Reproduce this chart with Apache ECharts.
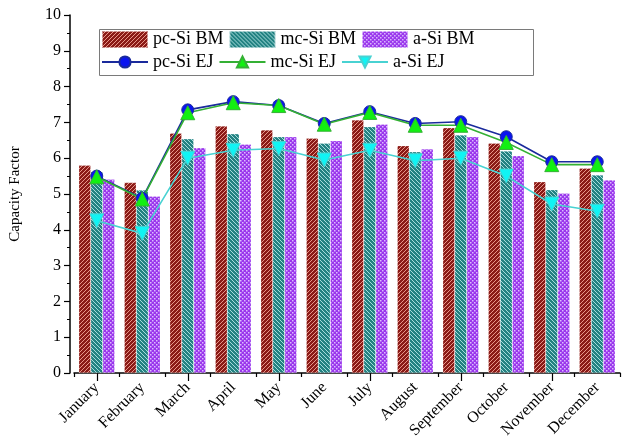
<!DOCTYPE html>
<html>
<head>
<meta charset="utf-8">
<script src="https://cdn.jsdelivr.net/npm/echarts@6/dist/echarts.min.js"></script>
<style>
  html, body { margin: 0; padding: 0; background: #ffffff; }
  #chart { width: 633px; height: 444px; }
</style>
</head>
<body>
<div id="chart"></div>
<script>
// Monthly capacity factor of three PV technologies, two estimation methods
const months = ['January', 'February', 'March', 'April', 'May', 'June',
                'July', 'August', 'September', 'October', 'November', 'December'];

// BM results (bars)
const pcSiBM = [5.80, 5.32, 6.70, 6.90, 6.79, 6.56, 7.07, 6.35, 6.85, 6.42, 5.34, 5.72];
const mcSiBM = [5.62, 5.11, 6.54, 6.68, 6.60, 6.42, 6.88, 6.18, 6.65, 6.20, 5.12, 5.53];
const aSiBM  = [5.41, 4.94, 6.29, 6.39, 6.60, 6.49, 6.95, 6.26, 6.60, 6.07, 5.02, 5.39];

// EJ results (lines)
const pcSiEJ = [5.50, 4.88, 7.35, 7.58, 7.47, 6.97, 7.30, 6.97, 7.02, 6.60, 5.90, 5.90];
const mcSiEJ = [5.48, 4.86, 7.27, 7.55, 7.47, 6.95, 7.28, 6.92, 6.92, 6.44, 5.82, 5.82];
const aSiEJ  = [4.25, 3.90, 6.00, 6.22, 6.27, 5.95, 6.22, 5.93, 6.00, 5.50, 4.72, 4.52];

const yTicks = { min: 0, max: 10, step: 1 };

const SERIF = 'Liberation Serif, Times New Roman, serif';

// Hatch fill tiles for the bars
function stripeTile(bg, fg, rising) {
  const s = 4;
  const c = document.createElement('canvas');
  c.width = s; c.height = s;
  const g = c.getContext('2d');
  g.fillStyle = bg; g.fillRect(0, 0, s, s);
  g.strokeStyle = fg; g.lineWidth = 1;
  g.beginPath();
  if (rising) {
    g.moveTo(-1, s + 1); g.lineTo(s + 1, -1);
    g.moveTo(-1, 1); g.lineTo(1, -1);
    g.moveTo(s - 1, s + 1); g.lineTo(s + 1, s - 1);
  } else {
    g.moveTo(-1, -1); g.lineTo(s + 1, s + 1);
    g.moveTo(s - 1, -1); g.lineTo(s + 1, 1);
    g.moveTo(-1, s - 1); g.lineTo(1, s + 1);
  }
  g.stroke();
  return c;
}
function dotTile(bg, fg) {
  const s = 4;
  const c = document.createElement('canvas');
  c.width = s; c.height = s;
  const g = c.getContext('2d');
  g.fillStyle = bg; g.fillRect(0, 0, s, s);
  g.fillStyle = fg;
  g.fillRect(0, 0, 1.5, 1.5);
  g.fillRect(2, 2, 1.5, 1.5);
  return c;
}

const redFill    = { image: stripeTile('#8a1a16', '#e8968a', true), repeat: 'repeat' };
const tealFill   = { image: stripeTile('#238282', '#a6dcdc', false), repeat: 'repeat' };
const purpleFill = { image: dotTile('#9a36ec', '#dcbcff'), repeat: 'repeat' };

function barSeries(name, data, fill) {
  return {
    name: name, type: 'bar', data: data,
    xAxisIndex: 0, yAxisIndex: 0,
    barWidth: 12, barGap: '0%',
    itemStyle: { color: fill, borderColor: 'rgba(255,255,255,0.5)', borderWidth: 0.5 },
    z: 2
  };
}
function lineSeries(name, data, lineColor, markColor, symbol, size, rotate) {
  return {
    name: name, type: 'line', data: data,
    xAxisIndex: 0, yAxisIndex: 0,
    symbol: symbol, symbolSize: size, symbolRotate: rotate,
    lineStyle: { color: lineColor, width: 1.6 },
    itemStyle: { color: markColor, borderColor: lineColor, borderWidth: 1 },
    z: 4
  };
}

const chart = echarts.init(document.getElementById('chart'), null, { renderer: 'canvas' });

const legendText = { fontFamily: SERIF, fontSize: 18, color: '#000', width: 88 };

chart.setOption({
  backgroundColor: '#ffffff',
  animation: false,
  grid: { left: 74, right: 13, top: 15, bottom: 71, containLabel: false },
  legend: [
    {
      data: [
        { name: 'pc-Si BM', icon: 'rect' },
        { name: 'mc-Si BM', icon: 'rect' },
        { name: 'a-Si BM', icon: 'rect' }
      ],
      left: 101, top: 30, padding: 0,
      itemWidth: 46, itemHeight: 17, itemGap: 5,
      textStyle: legendText
    },
    {
      data: ['pc-Si EJ', 'mc-Si EJ', 'a-Si EJ'],
      left: 101, top: 53, padding: 0,
      itemWidth: 46, itemHeight: 14, itemGap: 5,
      textStyle: legendText
    }
  ],
  graphic: [{
    type: 'rect', left: 97, top: 27, z: 0, silent: true,
    shape: { width: 434, height: 46 },
    style: { fill: 'none', stroke: '#7a7a7a', lineWidth: 1 }
  }],
  xAxis: [
    {
      type: 'category', data: months, position: 'bottom',
      axisLine: { show: true, lineStyle: { color: '#000', width: 1.5 } },
      axisTick: { show: true, length: 4, lineStyle: { color: '#000', width: 1.2 } },
      axisLabel: { rotate: 45, margin: 12, fontFamily: SERIF, fontSize: 16, color: '#000' },
      splitLine: { show: false }
    },
    {
      type: 'category', data: months, position: 'bottom',
      axisLine: { show: false },
      axisTick: { show: true, alignWithLabel: true, length: 8, lineStyle: { color: '#000', width: 1.2 } },
      axisLabel: { show: false },
      splitLine: { show: false }
    }
  ],
  yAxis: {
    type: 'value', min: yTicks.min, max: yTicks.max, interval: yTicks.step,
    offset: 4,
    name: 'Capacity Factor', nameLocation: 'middle', nameGap: 47,
    nameTextStyle: { fontFamily: SERIF, fontSize: 15, color: '#000' },
    axisLine: { show: true, lineStyle: { color: '#000', width: 1.5 } },
    axisTick: { show: true, length: 6, lineStyle: { color: '#000', width: 1.2 } },
    minorTick: { show: true, splitNumber: 2, length: 3, lineStyle: { color: '#000', width: 1 } },
    axisLabel: { margin: 9, fontFamily: SERIF, fontSize: 16, color: '#000' },
    splitLine: { show: false },
    minorSplitLine: { show: false }
  },
  series: [
    barSeries('pc-Si BM', pcSiBM, redFill),
    barSeries('mc-Si BM', mcSiBM, tealFill),
    barSeries('a-Si BM', aSiBM, purpleFill),
    lineSeries('pc-Si EJ', pcSiEJ, '#1a2a9c', '#0a14f0', 'circle', 12, 0),
    lineSeries('mc-Si EJ', mcSiEJ, '#34b034', '#12f012', 'triangle', 14, 0),
    lineSeries('a-Si EJ', aSiEJ, '#48d2d2', '#10f4f4', 'triangle', 14, 180)
  ]
});
</script>
</body>
</html>
